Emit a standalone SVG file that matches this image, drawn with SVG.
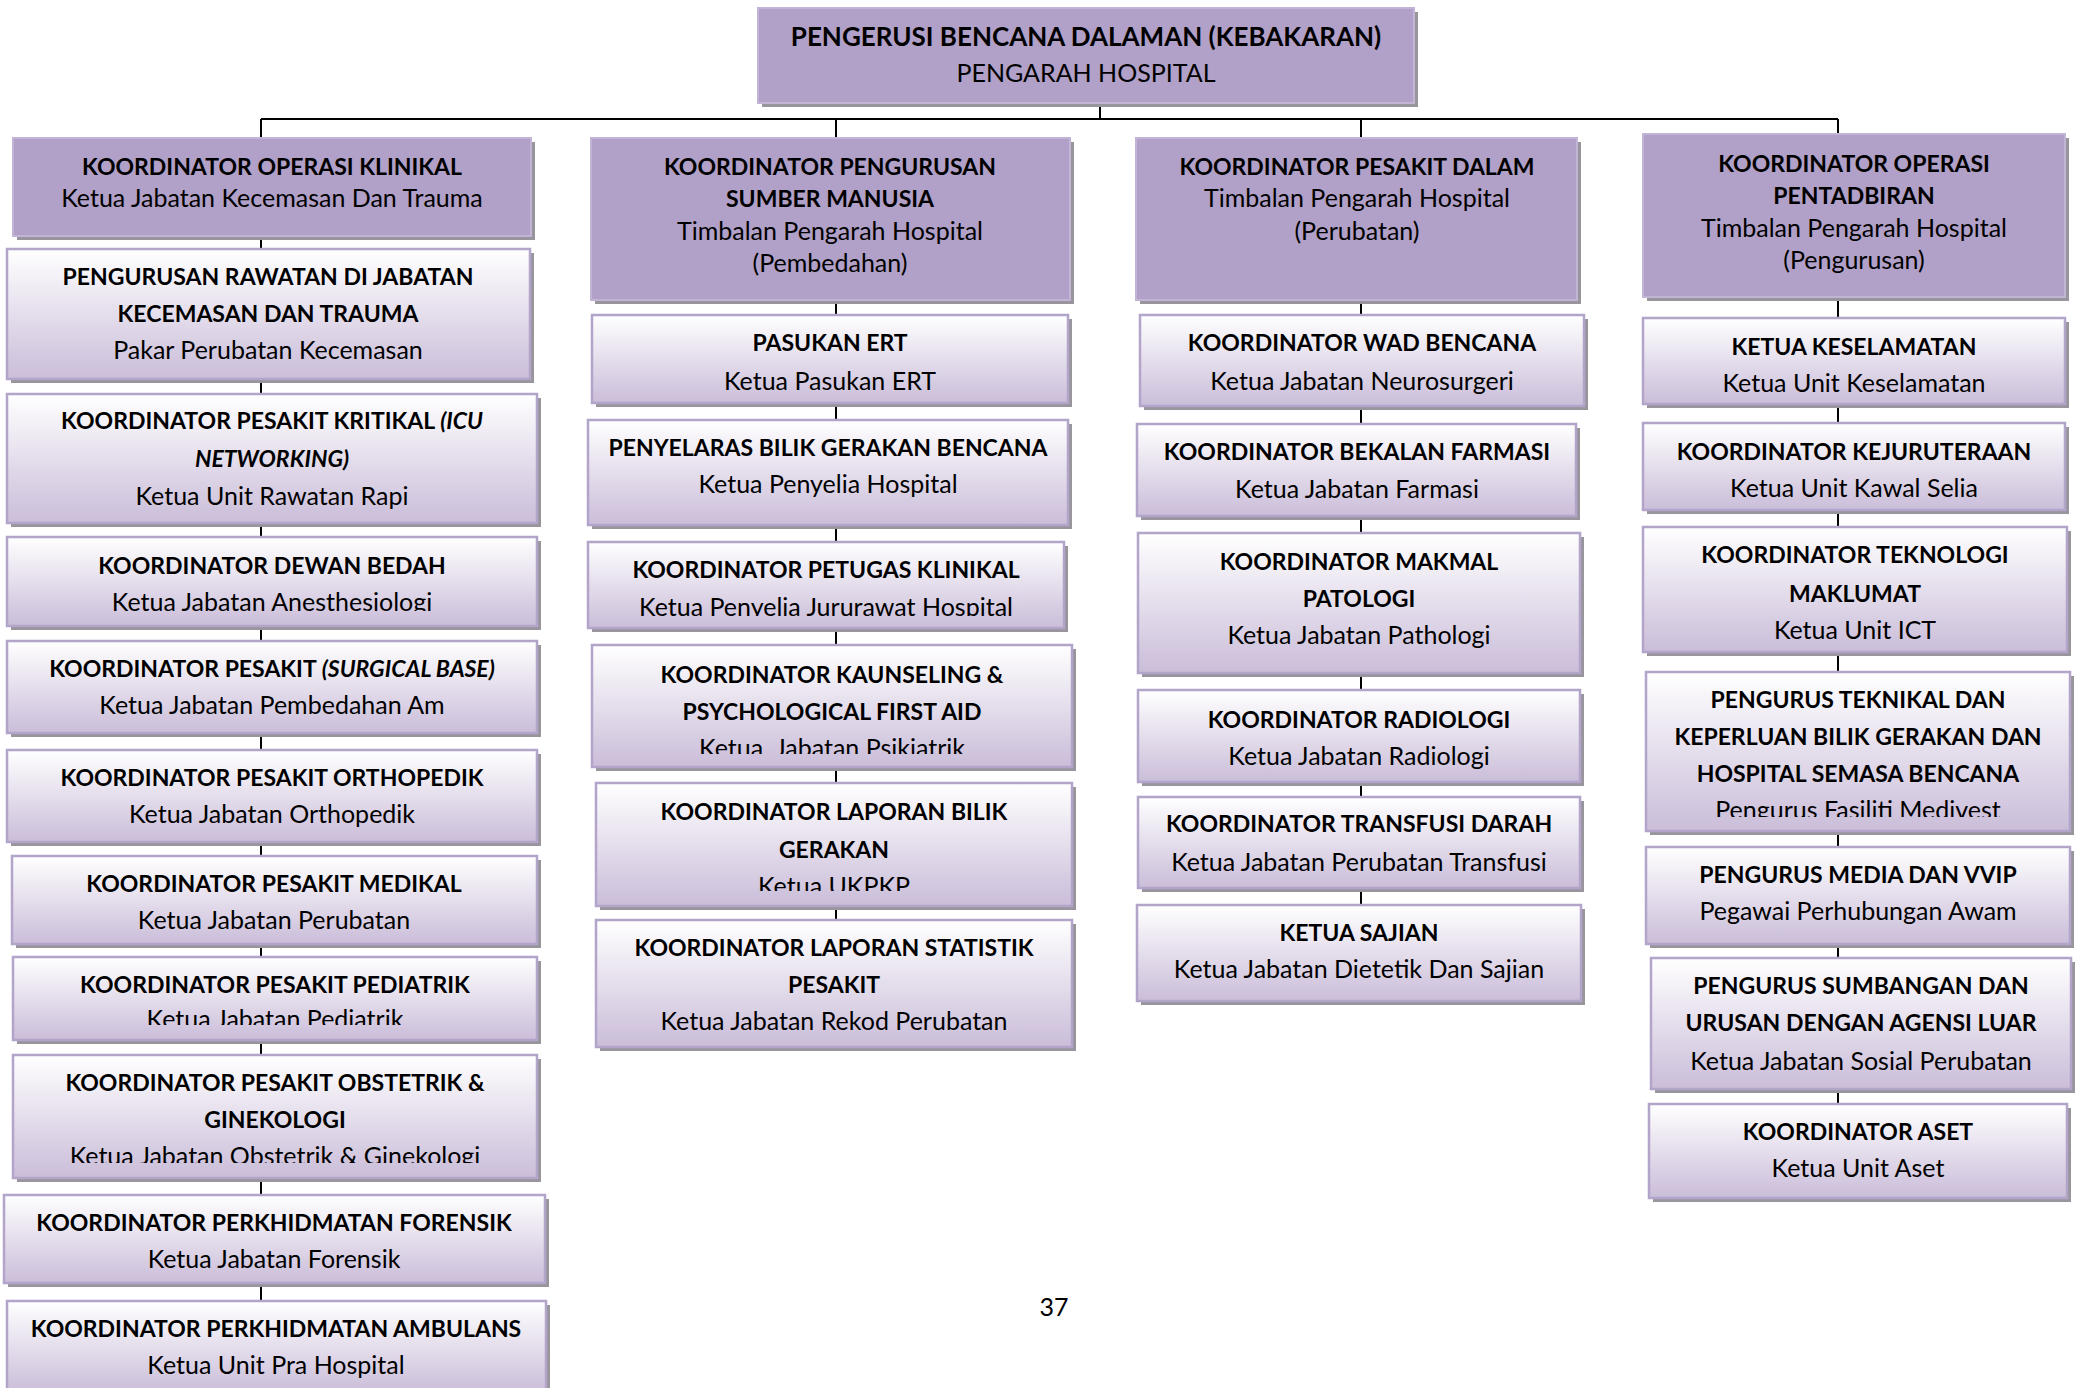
<svg xmlns="http://www.w3.org/2000/svg" width="2078" height="1388" viewBox="0 0 2078 1388">
<defs>
  <linearGradient id="subFill" x1="0" y1="0" x2="0" y2="1">
    <stop offset="0" stop-color="#ffffff"/>
    <stop offset="1" stop-color="#cabdd9"/>
  </linearGradient>
  <clipPath id="cutBedah"><rect x="0" y="0" width="2078" height="611"/></clipPath>
  <clipPath id="cutPediatrik"><rect x="0" y="0" width="2078" height="1025"/></clipPath>
  <clipPath id="cutObstetrik"><rect x="0" y="0" width="2078" height="1163"/></clipPath>
  <clipPath id="cutPetugas"><rect x="0" y="0" width="2078" height="616"/></clipPath>
  <clipPath id="cutKaunseling"><rect x="0" y="0" width="2078" height="754"/></clipPath>
  <clipPath id="cutLaporan"><rect x="0" y="0" width="2078" height="891"/></clipPath>
  <clipPath id="cutTeknikal"><rect x="0" y="0" width="2078" height="817"/></clipPath>
</defs>
<style>
  .sh{fill:#98959c}
  .hd{fill:#b1a0c7;stroke:#c1b4d4;stroke-width:2}
  .bx{fill:url(#subFill);stroke:#b3a5c9;stroke-width:2.5}
  .ln{stroke:#000;stroke-width:2;fill:none}
  text{font-family:Lato,"Liberation Sans",sans-serif;font-size:25px;fill:#000;text-anchor:middle}
  .b{font-weight:700;font-size:23px}
  .i{font-style:italic}
  .t{font-size:26px}
</style>
<rect width="2078" height="1388" fill="#ffffff"/>

<!-- connectors -->
<g id="connectors">
  <path class="ln" d="M1100 103V119M261 119H1838"/>
  <path class="ln" d="M261 119V1301"/>
  <path class="ln" d="M836 119V920"/>
  <path class="ln" d="M1361 119V905"/>
  <path class="ln" d="M1838 119V1104"/>
</g>

<!-- top -->
<g id="pengerusi">
  <rect class="sh" x="762" y="12" width="656" height="95"/>
  <rect class="hd" x="758" y="8" width="656" height="95"/>
  <text x="1086" y="46" class="b t">PENGERUSI BENCANA DALAMAN (KEBAKARAN)</text>
  <text x="1086" y="82">PENGARAH HOSPITAL</text>
</g>

<!-- column 1 -->
<g id="klinikal">
  <rect class="sh" x="17" y="142" width="518" height="98"/>
  <rect class="hd" x="13" y="138" width="518" height="98"/>
  <text x="272" y="175" class="b">KOORDINATOR OPERASI KLINIKAL</text>
  <text x="272" y="207">Ketua Jabatan Kecemasan Dan Trauma</text>
</g>
<g id="rawatan">
  <rect class="sh" x="11" y="253" width="523" height="130"/>
  <rect class="bx" x="7" y="249" width="523" height="130"/>
  <text x="268" y="285" class="b">PENGURUSAN RAWATAN DI JABATAN</text>
  <text x="268" y="322" class="b">KECEMASAN DAN TRAUMA</text>
  <text x="268" y="359">Pakar Perubatan Kecemasan</text>
</g>
<g id="kritikal">
  <rect class="sh" x="11" y="398" width="530" height="129"/>
  <rect class="bx" x="7" y="394" width="530" height="129"/>
  <text x="272" y="429" class="b">KOORDINATOR PESAKIT KRITIKAL <tspan class="i">(ICU</tspan></text>
  <text x="272" y="467" class="b i">NETWORKING)</text>
  <text x="272" y="505">Ketua Unit Rawatan Rapi</text>
</g>
<g id="bedah">
  <rect class="sh" x="11" y="541" width="530" height="89"/>
  <rect class="bx" x="7" y="537" width="530" height="89"/>
  <text x="272" y="574" class="b">KOORDINATOR DEWAN BEDAH</text>
  <text x="272" y="611" clip-path="url(#cutBedah)">Ketua Jabatan Anesthesiologi</text>
</g>
<g id="surgical">
  <rect class="sh" x="11" y="645" width="530" height="92"/>
  <rect class="bx" x="7" y="641" width="530" height="92"/>
  <text x="272" y="677" class="b">KOORDINATOR PESAKIT <tspan class="i">(SURGICAL BASE)</tspan></text>
  <text x="272" y="714">Ketua Jabatan Pembedahan Am</text>
</g>
<g id="orthopedik">
  <rect class="sh" x="11" y="754" width="530" height="92"/>
  <rect class="bx" x="7" y="750" width="530" height="92"/>
  <text x="272" y="786" class="b">KOORDINATOR PESAKIT ORTHOPEDIK</text>
  <text x="272" y="823">Ketua Jabatan Orthopedik</text>
</g>
<g id="medikal">
  <rect class="sh" x="16" y="860" width="525" height="88"/>
  <rect class="bx" x="12" y="856" width="525" height="88"/>
  <text x="274" y="892" class="b">KOORDINATOR PESAKIT MEDIKAL</text>
  <text x="274" y="929">Ketua Jabatan Perubatan</text>
</g>
<g id="pediatrik">
  <rect class="sh" x="17" y="961" width="524" height="83"/>
  <rect class="bx" x="13" y="957" width="524" height="83"/>
  <text x="275" y="993" class="b">KOORDINATOR PESAKIT PEDIATRIK</text>
  <text x="275" y="1028" clip-path="url(#cutPediatrik)">Ketua Jabatan Pediatrik</text>
</g>
<g id="obstetrik">
  <rect class="sh" x="17" y="1059" width="524" height="123"/>
  <rect class="bx" x="13" y="1055" width="524" height="123"/>
  <text x="275" y="1091" class="b">KOORDINATOR PESAKIT OBSTETRIK &amp;</text>
  <text x="275" y="1128" class="b">GINEKOLOGI</text>
  <text x="275" y="1165" clip-path="url(#cutObstetrik)">Ketua Jabatan Obstetrik &amp; Ginekologi</text>
</g>
<g id="forensik">
  <rect class="sh" x="8" y="1199" width="541" height="88"/>
  <rect class="bx" x="4" y="1195" width="541" height="88"/>
  <text x="274" y="1231" class="b">KOORDINATOR PERKHIDMATAN FORENSIK</text>
  <text x="274" y="1268">Ketua Jabatan Forensik</text>
</g>
<g id="ambulans">
  <rect class="sh" x="11" y="1305" width="539" height="92"/>
  <rect class="bx" x="7" y="1301" width="539" height="92"/>
  <text x="276" y="1337" class="b">KOORDINATOR PERKHIDMATAN AMBULANS</text>
  <text x="276" y="1374">Ketua Unit Pra Hospital</text>
</g>

<!-- column 2 -->
<g id="sumber-manusia">
  <rect class="sh" x="595" y="142" width="479" height="162"/>
  <rect class="hd" x="591" y="138" width="479" height="162"/>
  <text x="830" y="175" class="b">KOORDINATOR PENGURUSAN</text>
  <text x="830" y="207" class="b">SUMBER MANUSIA</text>
  <text x="830" y="240">Timbalan Pengarah Hospital</text>
  <text x="830" y="272">(Pembedahan)</text>
</g>
<g id="ert">
  <rect class="sh" x="596" y="319" width="476" height="88"/>
  <rect class="bx" x="592" y="315" width="476" height="88"/>
  <text x="830" y="351" class="b">PASUKAN ERT</text>
  <text x="830" y="390">Ketua Pasukan ERT</text>
</g>
<g id="penyelaras">
  <rect class="sh" x="592" y="424" width="480" height="105"/>
  <rect class="bx" x="588" y="420" width="480" height="105"/>
  <text x="828" y="456" class="b">PENYELARAS BILIK GERAKAN BENCANA</text>
  <text x="828" y="493">Ketua Penyelia Hospital</text>
</g>
<g id="petugas">
  <rect class="sh" x="592" y="546" width="476" height="86"/>
  <rect class="bx" x="588" y="542" width="476" height="86"/>
  <text x="826" y="578" class="b">KOORDINATOR PETUGAS KLINIKAL</text>
  <text x="826" y="616" clip-path="url(#cutPetugas)">Ketua Penyelia Jururawat Hospital</text>
</g>
<g id="kaunseling">
  <rect class="sh" x="596" y="649" width="480" height="122"/>
  <rect class="bx" x="592" y="645" width="480" height="122"/>
  <text x="832" y="683" class="b">KOORDINATOR KAUNSELING &amp;</text>
  <text x="832" y="720" class="b">PSYCHOLOGICAL FIRST AID</text>
  <text x="832" y="757" xml:space="preserve" clip-path="url(#cutKaunseling)">Ketua  Jabatan Psikiatrik</text>
</g>
<g id="laporan-bilik">
  <rect class="sh" x="600" y="787" width="476" height="123"/>
  <rect class="bx" x="596" y="783" width="476" height="123"/>
  <text x="834" y="820" class="b">KOORDINATOR LAPORAN BILIK</text>
  <text x="834" y="858" class="b">GERAKAN</text>
  <text x="834" y="895" clip-path="url(#cutLaporan)">Ketua UKPKP</text>
</g>
<g id="statistik">
  <rect class="sh" x="600" y="924" width="476" height="127"/>
  <rect class="bx" x="596" y="920" width="476" height="127"/>
  <text x="834" y="956" class="b">KOORDINATOR LAPORAN STATISTIK</text>
  <text x="834" y="993" class="b">PESAKIT</text>
  <text x="834" y="1030">Ketua Jabatan Rekod Perubatan</text>
</g>

<!-- column 3 -->
<g id="pesakit-dalam">
  <rect class="sh" x="1140" y="142" width="441" height="162"/>
  <rect class="hd" x="1136" y="138" width="441" height="162"/>
  <text x="1357" y="175" class="b">KOORDINATOR PESAKIT DALAM</text>
  <text x="1357" y="207">Timbalan Pengarah Hospital</text>
  <text x="1357" y="240">(Perubatan)</text>
</g>
<g id="wad">
  <rect class="sh" x="1144" y="319" width="444" height="91"/>
  <rect class="bx" x="1140" y="315" width="444" height="91"/>
  <text x="1362" y="351" class="b">KOORDINATOR WAD BENCANA</text>
  <text x="1362" y="390">Ketua Jabatan Neurosurgeri</text>
</g>
<g id="farmasi">
  <rect class="sh" x="1141" y="428" width="439" height="92"/>
  <rect class="bx" x="1137" y="424" width="439" height="92"/>
  <text x="1357" y="460" class="b">KOORDINATOR BEKALAN FARMASI</text>
  <text x="1357" y="498">Ketua Jabatan Farmasi</text>
</g>
<g id="patologi">
  <rect class="sh" x="1142" y="537" width="442" height="140"/>
  <rect class="bx" x="1138" y="533" width="442" height="140"/>
  <text x="1359" y="570" class="b">KOORDINATOR MAKMAL</text>
  <text x="1359" y="607" class="b">PATOLOGI</text>
  <text x="1359" y="644">Ketua Jabatan Pathologi</text>
</g>
<g id="radiologi">
  <rect class="sh" x="1142" y="694" width="442" height="92"/>
  <rect class="bx" x="1138" y="690" width="442" height="92"/>
  <text x="1359" y="728" class="b">KOORDINATOR RADIOLOGI</text>
  <text x="1359" y="765">Ketua Jabatan Radiologi</text>
</g>
<g id="transfusi">
  <rect class="sh" x="1142" y="801" width="442" height="91"/>
  <rect class="bx" x="1138" y="797" width="442" height="91"/>
  <text x="1359" y="832" class="b">KOORDINATOR TRANSFUSI DARAH</text>
  <text x="1359" y="871">Ketua Jabatan Perubatan Transfusi</text>
</g>
<g id="sajian">
  <rect class="sh" x="1141" y="909" width="444" height="96"/>
  <rect class="bx" x="1137" y="905" width="444" height="96"/>
  <text x="1359" y="941" class="b">KETUA SAJIAN</text>
  <text x="1359" y="978">Ketua Jabatan Dietetik Dan Sajian</text>
</g>

<!-- column 4 -->
<g id="pentadbiran">
  <rect class="sh" x="1647" y="138" width="422" height="163"/>
  <rect class="hd" x="1643" y="134" width="422" height="163"/>
  <text x="1854" y="172" class="b">KOORDINATOR OPERASI</text>
  <text x="1854" y="204" class="b">PENTADBIRAN</text>
  <text x="1854" y="237">Timbalan Pengarah Hospital</text>
  <text x="1854" y="269">(Pengurusan)</text>
</g>
<g id="keselamatan">
  <rect class="sh" x="1647" y="322" width="422" height="86"/>
  <rect class="bx" x="1643" y="318" width="422" height="86"/>
  <text x="1854" y="355" class="b">KETUA KESELAMATAN</text>
  <text x="1854" y="392">Ketua Unit Keselamatan</text>
</g>
<g id="kejuruteraan">
  <rect class="sh" x="1647" y="427" width="422" height="87"/>
  <rect class="bx" x="1643" y="423" width="422" height="87"/>
  <text x="1854" y="460" class="b">KOORDINATOR KEJURUTERAAN</text>
  <text x="1854" y="497">Ketua Unit Kawal Selia</text>
</g>
<g id="teknologi">
  <rect class="sh" x="1647" y="531" width="424" height="125"/>
  <rect class="bx" x="1643" y="527" width="424" height="125"/>
  <text x="1855" y="563" class="b">KOORDINATOR TEKNOLOGI</text>
  <text x="1855" y="602" class="b">MAKLUMAT</text>
  <text x="1855" y="639">Ketua Unit ICT</text>
</g>
<g id="teknikal">
  <rect class="sh" x="1650" y="676" width="424" height="159"/>
  <rect class="bx" x="1646" y="672" width="424" height="159"/>
  <text x="1858" y="708" class="b">PENGURUS TEKNIKAL DAN</text>
  <text x="1858" y="745" class="b">KEPERLUAN BILIK GERAKAN DAN</text>
  <text x="1858" y="782" class="b">HOSPITAL SEMASA BENCANA</text>
  <text x="1858" y="819" clip-path="url(#cutTeknikal)">Pengurus Fasiliti Medivest</text>
</g>
<g id="media">
  <rect class="sh" x="1650" y="851" width="424" height="97"/>
  <rect class="bx" x="1646" y="847" width="424" height="97"/>
  <text x="1858" y="883" class="b">PENGURUS MEDIA DAN VVIP</text>
  <text x="1858" y="920">Pegawai Perhubungan Awam</text>
</g>
<g id="sumbangan">
  <rect class="sh" x="1655" y="962" width="420" height="131"/>
  <rect class="bx" x="1651" y="958" width="420" height="131"/>
  <text x="1861" y="994" class="b">PENGURUS SUMBANGAN DAN</text>
  <text x="1861" y="1031" class="b">URUSAN DENGAN AGENSI LUAR</text>
  <text x="1861" y="1070">Ketua Jabatan Sosial Perubatan</text>
</g>
<g id="aset">
  <rect class="sh" x="1653" y="1108" width="418" height="94"/>
  <rect class="bx" x="1649" y="1104" width="418" height="94"/>
  <text x="1858" y="1140" class="b">KOORDINATOR ASET</text>
  <text x="1858" y="1177">Ketua Unit Aset</text>
</g>

<!-- page number -->
<text x="1054" y="1316">37</text>
</svg>
